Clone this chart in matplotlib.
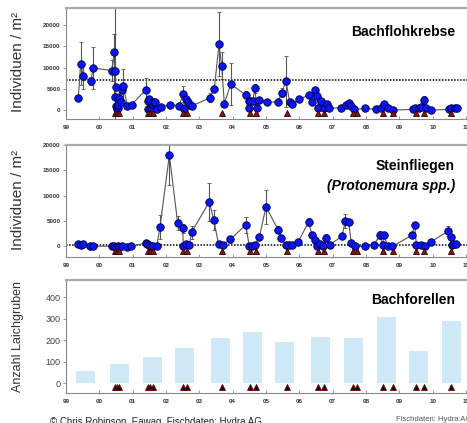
import numpy as np
import matplotlib
matplotlib.use('Agg')
import matplotlib.pyplot as plt

plt.rcParams['font.family'] = ['Liberation Sans', 'DejaVu Sans']

# x axis years
years = [1999, 2000, 2001, 2002, 2003, 2004, 2005, 2006, 2007, 2008, 2009, 2010, 2011]
year_labels = ['99', '00', '01', '02', '03', '04', '05', '06', '07', '08', '09', '10', '11']

# spawning dates (triangles on the x axis)
spawn_t = [2000.47, 2000.53, 2000.60, 2001.45, 2001.52, 2001.60, 2002.51, 2002.63,
           2003.68, 2004.52, 2004.70, 2005.62, 2006.55, 2006.73, 2007.61, 2007.73,
           2008.51, 2008.81, 2009.51, 2009.73, 2010.56]

# Bachflohkrebse
flohkrebse_t = [1999.37, 1999.44, 1999.52, 1999.74, 1999.82, 2000.37, 2000.45, 2000.46,
                2000.47, 2000.49, 2000.50, 2000.52, 2000.55, 2000.57, 2000.60, 2000.64,
                2000.67, 2000.72, 2000.84, 2000.97, 2001.40, 2001.45, 2001.47, 2001.50,
                2001.52, 2001.57, 2001.59, 2001.62, 2001.67, 2001.72, 2001.85, 2002.12,
                2002.39, 2002.52, 2002.54, 2002.60, 2002.67, 2002.72, 2002.79, 2003.32,
                2003.45, 2003.59, 2003.67, 2003.75, 2003.94, 2004.39, 2004.48, 2004.50,
                2004.52, 2004.60, 2004.67, 2004.72, 2004.80, 2005.02, 2005.36, 2005.47,
                2005.60, 2005.71, 2005.79, 2005.98, 2006.29, 2006.38, 2006.47, 2006.54,
                2006.57, 2006.66, 2006.74, 2006.83, 2006.90, 2007.26, 2007.41, 2007.49,
                2007.56, 2007.64, 2007.98, 2008.31, 2008.44, 2008.54, 2008.66, 2008.81,
                2009.41, 2009.48, 2009.58, 2009.66, 2009.73, 2009.81, 2009.96, 2010.48,
                2010.56, 2010.66, 2010.72]
flohkrebse_v = [2900, 10900, 7900, 6800, 9900, 9300, 13600, 3100,
                9100, 5400, 900, 200, 600, 1200, 2900, 1900,
                4800, 5600, 1000, 1300, 4800, 150, 2200, 2700,
                150, 150, 1400, 1900, 1900, 150, 800, 1300,
                1000, 3800, 150, 2500, 1900, 1200, 1000, 2900,
                5000, 15500, 10400, 1500, 6100, 3600, 2100, 400,
                2100, 2100, 5100, 400, 2300, 1900, 1900, 4100,
                6800, 1900, 1500, 2500, 3500, 1900, 4700, 3300,
                600, 2100, 400, 1400, 400, 600, 1200, 1700,
                900, 150, 400, 150, 400, 1400, 400, 0,
                150, 600, 400, 800, 2300, 400, 0, 150,
                400, 600, 600]
flohkrebse_e = [600, 5000, 3000, 1000, 4900, 2400, 4400, 0,
                14900, 0, 0, 0, 0, 0, 1000, 0,
                0, 4100, 0, 0, 2800, 0, 0, 0,
                0, 0, 0, 0, 0, 0, 0, 0,
                0, 1900, 0, 0, 0, 0, 0, 1000,
                0, 7500, 3200, 0, 5000, 800, 0, 0,
                0, 0, 1000, 0, 0, 0, 0, 1000,
                6000, 0, 0, 0, 500, 0, 800, 0,
                0, 600, 0, 500, 0, 0, 0, 500,
                0, 0, 0, 0, 0, 500, 0, 0,
                0, 0, 0, 0, 900, 0, 0, 0,
                0, 300, 0]

# Steinfliegen (Protonemura spp.)
steinfl_t = [1999.37, 1999.45, 1999.50, 1999.72, 1999.82, 2000.37, 2000.45, 2000.50,
             2000.55, 2000.60, 2000.67, 2000.82, 2000.95, 2001.39, 2001.44, 2001.50,
             2001.55, 2001.62, 2001.72, 2001.82, 2002.10, 2002.35, 2002.50, 2002.52,
             2002.60, 2002.70, 2002.77, 2003.30, 2003.43, 2003.58, 2003.70, 2003.93,
             2004.39, 2004.50, 2004.58, 2004.67, 2004.80, 2005.00, 2005.36, 2005.46,
             2005.59, 2005.68, 2005.77, 2005.96, 2006.28, 2006.38, 2006.46, 2006.53,
             2006.62, 2006.70, 2006.81, 2006.91, 2007.28, 2007.38, 2007.48, 2007.56,
             2007.66, 2007.96, 2008.24, 2008.41, 2008.50, 2008.53, 2008.66, 2008.79,
             2009.38, 2009.46, 2009.51, 2009.66, 2009.77, 2009.94, 2010.46, 2010.54,
             2010.58, 2010.62, 2010.70]
steinfl_v = [530, 350, 400, 0, 0, 60, 100, -100,
             0, -50, 0, -50, 0, 650, 450, 200,
             0, 100, 0, 3800, 18000, 4600, 3600, 0,
             500, 300, 2800, 8800, 5200, 400, 300, 1400,
             4200, 0, 100, 200, 1800, 7800, 3300, 1600,
             300, 200, 200, 850, 4800, 2300, 1200, 0,
             400, 0, 1600, 300, 2000, 5000, 4800, 650,
             0, 0, 300, 2200, 200, 2200, 0, 0,
             2200, 4200, 300, 300, 0, 850, 3000, 1800,
             200, 500, 500]
steinfl_e = [200, 0, 0, 0, 0, 300, 0, 0,
             0, 0, 0, 0, 0, 200, 0, 0,
             0, 0, 0, 2300, 5800, 1300, 900, 0,
             0, 0, 1300, 3700, 2000, 0, 0, 700,
             1500, 0, 0, 0, 0, 3300, 700, 0,
             0, 0, 0, 0, 800, 0, 0, 0,
             0, 0, 800, 0, 0, 1300, 0, 0,
             0, 0, 0, 800, 0, 0, 0, 0,
             600, 0, 0, 0, 0, 0, 1000, 0,
             0, 0, 0]

# Bachforellen, Laichgruben pro Jahr
forellen_t = [1999.58, 2000.59, 2001.58, 2002.55, 2003.62, 2004.59, 2005.56, 2006.63,
              2007.63, 2008.61, 2009.58, 2010.56]
forellen_n = [57, 91, 124, 166, 212, 240, 192, 217, 209, 310, 152, 291]


def styleAxis(ax, yticks, ylim, bold_y=True):
    ax.set_xlim(1999, 2011.45)
    ax.set_ylim(ylim)
    ax.set_xticks(years)
    ax.set_xticklabels(year_labels, fontsize=4.5, fontweight='bold', color='#333333')
    ax.set_yticks(yticks)
    if bold_y:
        ax.set_yticklabels([str(v) for v in yticks], fontsize=4.5,
                           fontweight='bold', color='#333333')
    else:
        ax.set_yticklabels([str(v) for v in yticks], fontsize=6.5, color='#444444')
    ax.tick_params(axis='x', direction='in', length=2, width=0.6, color='#888888', pad=4)
    ax.tick_params(axis='y', direction='out', length=2, width=0.6, color='#888888', pad=2)
    ax.spines['right'].set_visible(False)
    ax.spines['top'].set_color('#aaaaaa')
    ax.spines['top'].set_linewidth(1.6)
    ax.spines['left'].set_color('#888888')
    ax.spines['left'].set_linewidth(0.8)
    ax.spines['bottom'].set_color('#888888')
    ax.spines['bottom'].set_linewidth(0.8)


def drawSpawning(ax, face, edge):
    ax.plot(spawn_t, [0.05]*len(spawn_t), linestyle='none', marker='^', ms=5,
            mfc=face, mec=edge, mew=0.6, transform=ax.get_xaxis_transform(),
            clip_on=False, zorder=5)


def drawSeries(ax, t, v, e):
    ax.errorbar(t, v, yerr=e, fmt='none', ecolor='#555555', elinewidth=0.8,
                capsize=1.5, capthick=0.6, zorder=2)
    ax.plot(t, v, color='#555555', lw=0.8, zorder=3)
    ax.plot(t, v, linestyle='none', marker='o', ms=5.4, mfc='#0a14ff',
            mec='#000033', mew=0.6, zorder=4)


fig = plt.figure(figsize=(4.67, 4.23), dpi=100)

# top panel
ax1 = fig.add_axes([66/467, 1-119/423, 415/467, 111/423])
drawSeries(ax1, flohkrebse_t, flohkrebse_v, flohkrebse_e)
ax1.axhline(7000, color='black', ls=(0, (1, 1)), lw=1.1, zorder=1)
styleAxis(ax1, [0, 5000, 10000, 15000, 20000], (-2100, 24000))
drawSpawning(ax1, '#8b1414', '#2a0000')
ax1.text(0.937, 0.78, 'Bachflohkrebse', transform=ax1.transAxes, ha='right',
         va='center', fontsize=10, fontweight='bold')

# middle panel
ax2 = fig.add_axes([66/467, 1-257/423, 415/467, 112/423])
drawSeries(ax2, steinfl_t, steinfl_v, steinfl_e)
ax2.axhline(300, color='black', ls=(0, (1, 1)), lw=1.1, zorder=1)
styleAxis(ax2, [0, 5000, 10000, 15000, 20000], (-2100, 20000))
drawSpawning(ax2, '#8b1414', '#2a0000')
ax2.text(0.937, 0.81, 'Steinfliegen', transform=ax2.transAxes, ha='right',
         va='center', fontsize=10, fontweight='bold')
ax2.text(0.937, 0.635, '(Protonemura spp.)', transform=ax2.transAxes, ha='right',
         va='center', fontsize=10, fontweight='bold', style='italic')

# bottom panel
ax3 = fig.add_axes([66/467, 1-393/423, 415/467, 113/423])
ax3.bar(forellen_t, forellen_n, width=0.57, color='#cfeaf6', zorder=2)
styleAxis(ax3, [0, 100, 200, 300, 400], (-45, 480), bold_y=False)
drawSpawning(ax3, '#111111', '#7a0000')
ax3.text(0.937, 0.82, 'Bachforellen', transform=ax3.transAxes, ha='right',
         va='center', fontsize=10, fontweight='bold')

# axis labels
fig.text(18/467, 1-62/423, 'Individuen / m²', rotation=90, ha='center', va='center',
         fontsize=11, color='#333333')
fig.text(18/467, 1-200/423, 'Individuen / m²', rotation=90, ha='center', va='center',
         fontsize=11, color='#333333')
fig.text(18/467, 1-336/423, 'Anzahl Laichgruben', rotation=90, ha='center', va='center',
         fontsize=9, color='#333333')

# footer
fig.text(50/467, -1.5/423, '© Chris Robinson, Eawag, Fischdaten: Hydra AG', ha='left',
         va='baseline', fontsize=7, color='#222222')
fig.text(396/467, 2/423, 'Fischdaten: Hydra AG', ha='left', va='baseline',
         fontsize=5.5, color='#555555')

fig.savefig('out.png', dpi=100)
